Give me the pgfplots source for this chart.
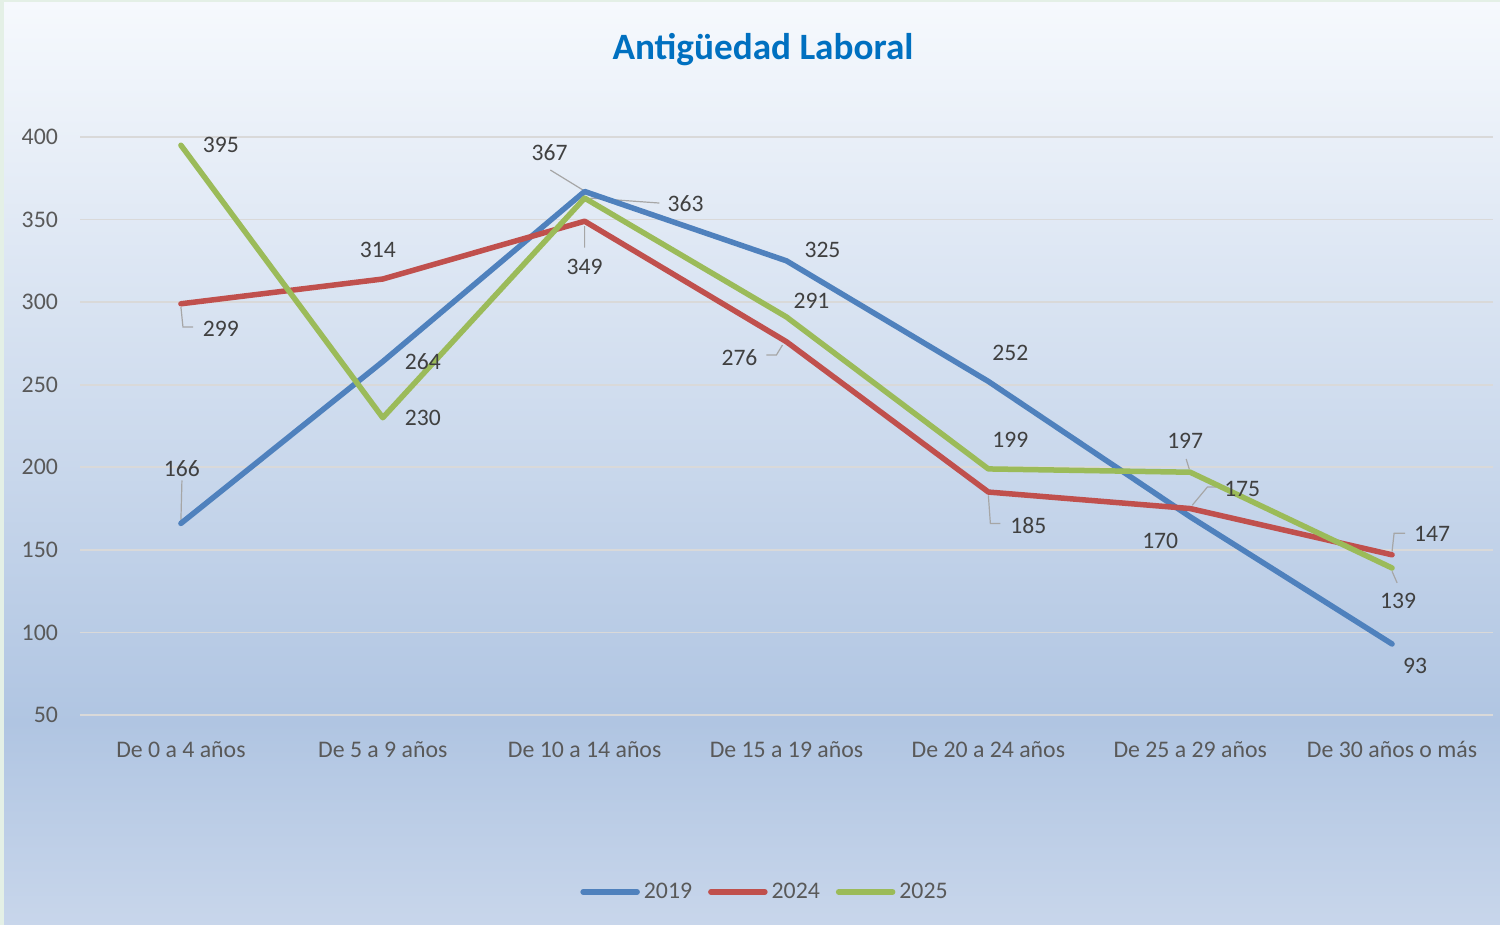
\documentclass[border=0pt]{standalone}
\usepackage{fontspec}
\setmainfont{Carlito}
\usepackage{pgfplots}
\pgfplotsset{compat=1.18}
\usepackage{pgfplotstable}
\definecolor{cA}{RGB}{79,129,189}
\definecolor{cB}{RGB}{192,80,77}
\definecolor{cC}{RGB}{155,187,89}
\definecolor{bgtop}{RGB}{246,249,253}
\definecolor{bgmid}{RGB}{176,197,226}
\definecolor{bgbot}{RGB}{200,214,235}
\definecolor{page}{RGB}{228,240,230}
\definecolor{ticktxt}{RGB}{89,89,89}
\definecolor{lbltxt}{RGB}{64,64,64}
\definecolor{titleblue}{RGB}{0,112,192}
\definecolor{gridc}{RGB}{217,217,217}
\definecolor{leader}{RGB}{166,166,166}
\pgfdeclareverticalshading{bgshade}{100bp}{color(0bp)=(bgbot); color(25bp)=(bgbot); color(36bp)=(bgmid); color(75bp)=(bgtop); color(100bp)=(bgtop)}

\pgfplotstableread{
x y dx dy
0 166 0.5 27.5
1 264 20 0
2 367 -17.5 19.5
3 325 18 5.5
4 252 11 14
5 170 -15 -12
6 93 11.5 -11
}\tA
\pgfplotstableread{
x y dx dy
0 299 20 -12.5
1 314 -2.5 14.5
2 349 0 -23
3 276 -23.5 -8
4 185 20 -16.5
5 175 26 10
6 147 20 10.5
}\tB
\pgfplotstableread{
x y dx dy
0 395 20 0
1 230 20 0
2 363 50.5 -3
3 291 12.5 8
4 199 11 14.5
5 197 -2.5 15.5
6 139 3 -16.5
}\tC

\pgfplotsset{
  serie/.style={#1, line width=2.75pt, line join=round, line cap=round,
    nodes near coords,
    every node near coord/.append style={font=\fontsize{11.8}{13}\selectfont, text=lbltxt, anchor=center, xshift=\dx pt, yshift=\dy pt},
    visualization depends on={\thisrow{dx} \as \dx},
    visualization depends on={\thisrow{dy} \as \dy}},
}

\begin{document}
\begin{tikzpicture}
\useasboundingbox (0,0) rectangle (750pt,462.5pt);
\fill[page] (0,0) rectangle (750pt,462.5pt);
\shade[shading=bgshade] (2pt,0) rectangle (750pt,461pt);
\node[font=\fontsize{18.6}{22}\selectfont\bfseries, text=titleblue] at (381.5pt,437.5pt) {Antigüedad Laboral};
\begin{axis}[
  at={(40pt,105pt)}, anchor=south west,
  scale only axis, width=706.5pt, height=289pt,
  xmin=-0.5, xmax=6.5, ymin=50, ymax=400,
  ytick={50,100,...,400},
  xtick={0,...,6},
  xticklabels={De 0 a 4 años, De 5 a 9 años, De 10 a 14 años, De 15 a 19 años, De 20 a 24 años, De 25 a 29 años, De 30 años o más},
  axis line style={draw=none},
  major tick length=0pt,
  ymajorgrids, grid style={gridc, line width=0.8pt},
  /pgf/number format/assume math mode=true,
  tick label style={font=\fontsize{11.9}{13}\selectfont, text=ticktxt},
  yticklabel style={xshift=-7.5pt},
  xticklabel style={yshift=-9pt, text height=8.5pt, text depth=2.5pt},
  clip=false,
  unbounded coords=jump,
  legend columns=3,
  legend style={at={(0.4855,-0.306)}, anchor=center, draw=none, fill=none,
    font=\fontsize{11.9}{13}\selectfont, text=ticktxt,
    /tikz/every even column/.append style={column sep=6pt}},
  legend image code/.code={\draw[#1, line width=2.75pt, line cap=round] (0pt,0pt) -- (27pt,0pt);},
]
\addplot[leader, line width=0.6pt, forget plot] coordinates {
(0,168) (0.005,192) (nan,nan)
(0,297) (0.01,285) (0.06,285) (nan,nan)
(1.99,368) (1.83,380) (nan,nan)
(2.03,363) (2.37,360) (nan,nan)
(2,346) (2,333) (nan,nan)
(2.98,274) (2.95,268) (2.9,268) (nan,nan)
(4,183) (4.01,166) (4.06,166) (nan,nan)
(5.01,177) (5.085,188) (5.13,188) (nan,nan)
(4.995,199) (4.98,205) (nan,nan)
(6,149) (6.01,160) (6.065,160) (nan,nan)
(6,137) (6.025,130)
};
\addplot[serie=cA] table[x=x,y=y] {\tA};
\addlegendentry{2019}
\addplot[serie=cB] table[x=x,y=y] {\tB};
\addlegendentry{2024}
\addplot[serie=cC] table[x=x,y=y] {\tC};
\addlegendentry{2025}
\end{axis}
\end{tikzpicture}
\end{document}
